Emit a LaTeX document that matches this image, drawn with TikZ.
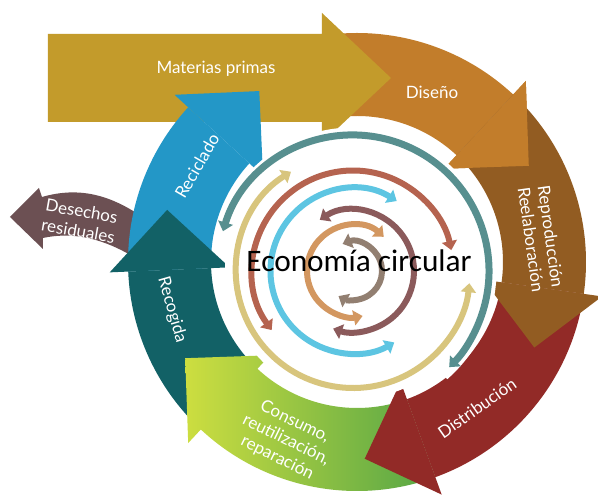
\documentclass[tikz,border=0pt]{standalone}
\usepackage{fontspec}
\setmainfont{Lato}
\newfontfamily\titlefont{Carlito}
\usetikzlibrary{arrows.meta}
\definecolor{matcol}{RGB}{195,155,43}
\definecolor{discol}{RGB}{194,125,43}
\definecolor{repcol}{RGB}{146,92,34}
\definecolor{distcol}{RGB}{146,42,39}
\definecolor{conslight}{RGB}{205,222,64}
\definecolor{consdark}{RGB}{84,165,70}
\definecolor{recogcol}{RGB}{18,97,102}
\definecolor{recicol}{RGB}{35,151,199}
\definecolor{descol}{RGB}{108,80,83}
\definecolor{ringteal}{RGB}{87,143,143}
\definecolor{ringtan}{RGB}{216,197,125}
\definecolor{ringred}{RGB}{181,99,79}
\definecolor{ringblue}{RGB}{93,197,226}
\definecolor{ringmaroon}{RGB}{139,90,91}
\definecolor{ringorange}{RGB}{211,151,96}
\definecolor{ringgrey}{RGB}{146,127,113}
\newcommand{\ringtip}{Triangle[width=15pt,length=9pt]}
\tikzstyle{ring}=[line width=6pt,\ringtip-\ringtip]
\tikzstyle{stagetext}=[text=white,font=\fontsize{17}{20}\selectfont,align=center]
% ring piece of the big cycle, from angle #2 to angle #3
\newcommand{\stagebody}[3]{\fill[#1] (#2:146) arc[start angle=#2,end angle=#3,radius=146]
  -- (#3:229) arc[start angle=#3,end angle=#2,radius=229] -- cycle;}
\newcommand{\stagehead}[2]{\fill[#1] (#2:127.5) -- (#2:247.5) -- ({#2-17.75}:196.9) -- cycle;}

\begin{document}
\begin{tikzpicture}[x=1pt,y=1pt]

  % Background (margins)
  \fill[white] (-357,-233) rectangle (241,262);
  \useasboundingbox (-357,-233) rectangle (241,262);

  % Waste leaving the cycle
  \fill[descol] (-347,45) -- (-318,74) -- (-315,65) .. controls (-277,76) and (-247,66) .. (-219,48)
    -- (-225,6) .. controls (-252,22) and (-282,31) .. (-314,24) -- (-314,13) -- cycle;

  % Big arrows, each one over the start of the next
  \stagebody{discol}{100}{47}
  \stagehead{discol}{47}
  \fill[matcol] (-309,140) -- (-309,228) -- (-35,228) -- (-35,249) -- (34,184)
    -- (-35,119) -- (-35,140) -- cycle;
  \stagebody{recicol}{182.4}{137.5}
  \stagehead{recicol}{137.5}
  \stagebody{recogcol}{227}{182.4}
  \stagehead{recogcol}{182.4}
  \shade[left color=conslight,right color=consdark]
    (290:146) arc[start angle=290,end angle=227,radius=146]
    -- (227:229) arc[start angle=227,end angle=290,radius=229] -- cycle
    (227:127.5) -- (227:247.5) -- (209.25:196.9) -- cycle;
  \stagebody{distcol}{352}{290}
  \stagehead{distcol}{290}
  \stagebody{repcol}{47}{-8}
  \stagehead{repcol}{-8}
  \stagehead{discol}{47}

  % Inner rings
  \begin{scope}[shift={(-4,-9)}]
    \fill[white] (0,0) circle (128);
    \draw[white,line width=15pt] (167:136) arc[start angle=167,end angle=-49,radius=136];
    \draw[ring,ringteal,line width=7pt] (163:136) arc[start angle=163,end angle=-45,radius=136];
    \draw[ring,ringtan] (122:117) arc[start angle=122,end angle=354,radius=117];
    \draw[ring,ringred] (216:100.5) arc[start angle=216,end angle=12,radius=100.5];
    \draw[ring,ringblue] (58:82.5) arc[start angle=58,end angle=300,radius=82.5];
    \draw[ring,ringmaroon] (123:61) arc[start angle=123,end angle=-109,radius=61];
    \draw[ring,ringorange] (48:46) arc[start angle=48,end angle=282,radius=46];
    \draw[ring,ringgrey] (111:29) arc[start angle=111,end angle=-120,radius=29];
  \end{scope}

  % Labels
  \node[stagetext] (matlbl) at (-141,193) {Materias primas};
  \node[stagetext] (dislbl) at (75,170) {Diseño};
  \node[stagetext,rotate=-82] (replbl) at (184,24) {Reproducción\\Reelaboración};
  \node[stagetext,rotate=35] (distlbl) at (120,-146) {Distribución};
  \node[stagetext,rotate=-26] (conlbl) at (-71,-178) {Consumo,\\reutilización,\\reparación};
  \node[stagetext,rotate=-74] (recoglbl) at (-185,-48) {Recogida};
  \node[stagetext,rotate=60] (recilbl) at (-160,96) {Reciclado};
  \node[stagetext,rotate=-10] (deslbl) at (-277,41) {Desechos\\residuales};
  \node[font=\titlefont\fontsize{31.3}{36}\selectfont,anchor=base] (title) at (2,-10) {Economía circular};

\end{tikzpicture}
\end{document}
